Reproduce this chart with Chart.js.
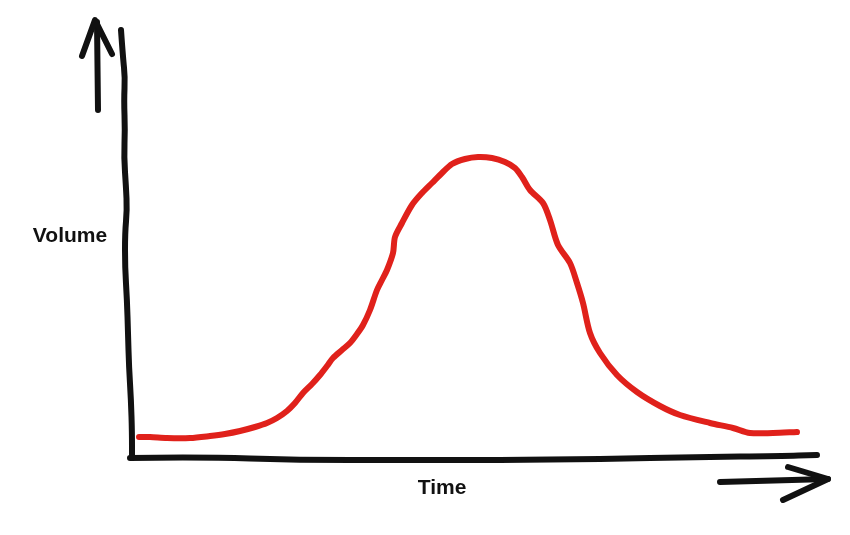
<!DOCTYPE html>
<html>
<head>
<meta charset="utf-8">
<script src="https://cdn.jsdelivr.net/npm/chart.js@4"></script>
<style>
  html, body { margin: 0; padding: 0; background: #fff; }
  #wrap { width: 850px; height: 535px; }
</style>
</head>
<body>
<div id="wrap"><canvas id="chart" width="850" height="535"></canvas></div>
<script>
// данные кривой (время -> объём)
const timeValues = [9, 20, 37, 60, 80, 95, 110, 125, 137, 147, 157, 165, 173, 182, 190, 197, 203, 212, 220, 227,
  233, 240, 247, 252, 257, 263, 265, 272, 282, 292, 302, 312, 322, 335, 348, 362, 375, 385, 392, 400,
  413, 420, 428, 440, 447, 453, 460, 470, 487, 507, 530, 550, 580, 603, 620, 643, 667];
const volumeValues = [21, 21, 20, 20, 22, 24, 27, 31, 35, 40, 47, 55, 65, 74, 83, 92, 100, 108, 115, 124,
  133, 148, 168, 178, 188, 205, 221, 235, 253, 265, 275, 285, 294, 299, 301, 300, 296, 290, 281, 268,
  255, 238, 213, 195, 175, 155, 125, 105, 83, 66, 52, 43, 35, 30, 25, 25, 26];
const xLabel = 'Time';
const yLabel = 'Volume';

const points = timeValues.map((t, i) => ({ x: t, y: volumeValues[i] }));

// рисуем "от руки" оси, стрелки и подписи
const sketchAxes = {
  id: 'sketchAxes',
  afterDraw(chart) {
    const { ctx, chartArea } = chart;
    const L = chartArea.left, B = chartArea.bottom;
    // плавная линия через точки (смещения от левого нижнего угла)
    const stroke = (pts) => {
      const p = pts.map(([dx, dy]) => [L + dx, B + dy]);
      ctx.beginPath();
      ctx.moveTo(p[0][0], p[0][1]);
      for (let i = 1; i < p.length - 1; i++) {
        const mx = (p[i][0] + p[i + 1][0]) / 2, my = (p[i][1] + p[i + 1][1]) / 2;
        ctx.quadraticCurveTo(p[i][0], p[i][1], mx, my);
      }
      const last = p[p.length - 1];
      ctx.lineTo(last[0], last[1]);
      ctx.stroke();
    };
    const poly = (pts) => {
      ctx.beginPath();
      ctx.moveTo(L + pts[0][0], B + pts[0][1]);
      for (let i = 1; i < pts.length; i++) ctx.lineTo(L + pts[i][0], B + pts[i][1]);
      ctx.stroke();
    };
    ctx.save();
    ctx.strokeStyle = '#111';
    ctx.lineWidth = 6;
    ctx.lineCap = 'round';
    ctx.lineJoin = 'round';

    // ось Y (слегка волнистая)
    stroke([[-9, -428], [-7, -400], [-5, -381], [-6, -358], [-5, -328], [-6, -301], [-4, -271],
      [-3, -248], [-5, -225], [-5, -191], [-3, -158], [-2, -125], [-1, -91], [1, -58], [2, -25], [2, 0]]);
    // ось X
    stroke([[0, 0], [70, -1], [170, 2], [270, 2], [370, 2], [470, 1], [570, -1], [650, -2], [687, -3]]);

    // стрелка вверх
    poly([[-32, -348], [-33, -436]]);
    poly([[-48, -402], [-35, -438], [-18, -404]]);
    // стрелка вправо
    poly([[590, 24], [698, 21]]);
    poly([[658, 9], [698, 21], [653, 42]]);

    // подписи
    ctx.fillStyle = '#111';
    ctx.font = 'bold 21px "Liberation Sans", Arial, sans-serif';
    ctx.textAlign = 'center';
    ctx.textBaseline = 'middle';
    ctx.fillText(yLabel, L - 60, B - 222);
    ctx.fillText(xLabel, L + 312, B + 30);
    ctx.restore();
  }
};

new Chart(document.getElementById('chart').getContext('2d'), {
  type: 'line',
  data: {
    datasets: [{
      data: points,
      borderColor: '#e0211b',
      borderWidth: 6,
      borderCapStyle: 'round',
      borderJoinStyle: 'round',
      pointRadius: 0,
      tension: 0.3,
      fill: false,
    }],
  },
  options: {
    responsive: false,
    animation: false,
    layout: { padding: { left: 130, right: 30, top: 20, bottom: 77 } },
    plugins: { legend: { display: false }, tooltip: { enabled: false } },
    scales: {
      x: { type: 'linear', min: 0, max: 690, display: false },
      y: { min: 0, max: 438, display: false },
    },
  },
  plugins: [sketchAxes],
});
</script>
</body>
</html>
